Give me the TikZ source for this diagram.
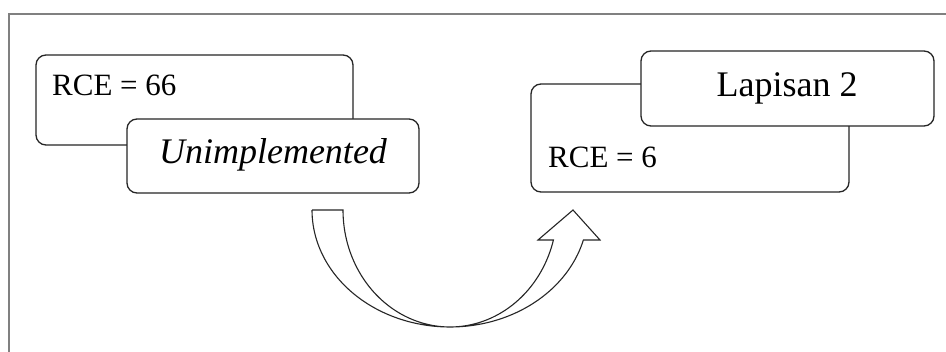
\documentclass[tikz,border=0pt]{standalone}
\usepackage{fontspec}
\setmainfont{Liberation Serif}
\begin{document}
\begin{tikzpicture}[x=1pt,y=-1pt,
  frameline/.style={draw=black!50, line width=1.5pt},
  card/.style={draw=black!85, fill=white, line width=1.3pt, rounded corners=10pt,
               rectangle, inner sep=0pt},
  tagbox/.style={draw=black!85, fill=white, line width=1.3pt, rounded corners=10pt,
                 rectangle, inner sep=0pt, font=\fontsize{36}{40}\selectfont},
  valtext/.style={anchor=base west, inner sep=0pt, font=\fontsize{31}{36}\selectfont},
  bentarrow/.style={draw=black!85, fill=white, line width=1.1pt, line join=miter}]
  \useasboundingbox (0,0) rectangle (946,352);
  \clip (0,0) rectangle (946,352);
  \fill[white] (0,0) rectangle (946,352);
  % outer frame
  \draw[frameline] (9,360) -- (9,14) -- (960,14);

  % left group
  \node[card, minimum width=317pt, minimum height=90pt] (rceA) at (194.5,100) {};
  \node[valtext] (rceAtxt) at (52,96) {RCE = 66};
  \node[tagbox, minimum width=292pt, minimum height=74pt] (unimp) at (273,156) {};
  \node[anchor=base, inner sep=0pt, font=\fontsize{36}{40}\selectfont\itshape] (unimptxt) at (273,164) {Unimplemented};

  % right group
  \node[card, minimum width=318pt, minimum height=108pt] (rceB) at (690,138) {};
  \node[valtext] (rceBtxt) at (548,168) {RCE = 6};
  \node[tagbox, minimum width=293pt, minimum height=75pt] (lap) at (787.5,88.5) {};
  \node[anchor=base, inner sep=0pt, font=\fontsize{36}{40}\selectfont] (laptxt) at (787,97) {Lapisan 2};

  % U-turn block arrow from the left group up to the right group
  \coordinate (tailL) at (312,210);
  \coordinate (tailR) at (343,210);
  \coordinate (tip) at (573,210);
  \draw[bentarrow] (tailL) -- (tailR)
    -- plot[domain=180:14.86, samples=90] ({450+107*cos(\x)},{210+117*sin(\x)})
    -- (538,240) -- (tip) -- (600,240) -- (583.4,240)
    -- plot[domain=14.86:180, samples=90] ({450+138*cos(\x)},{210+117*sin(\x)})
    -- cycle;
\end{tikzpicture}
\end{document}
